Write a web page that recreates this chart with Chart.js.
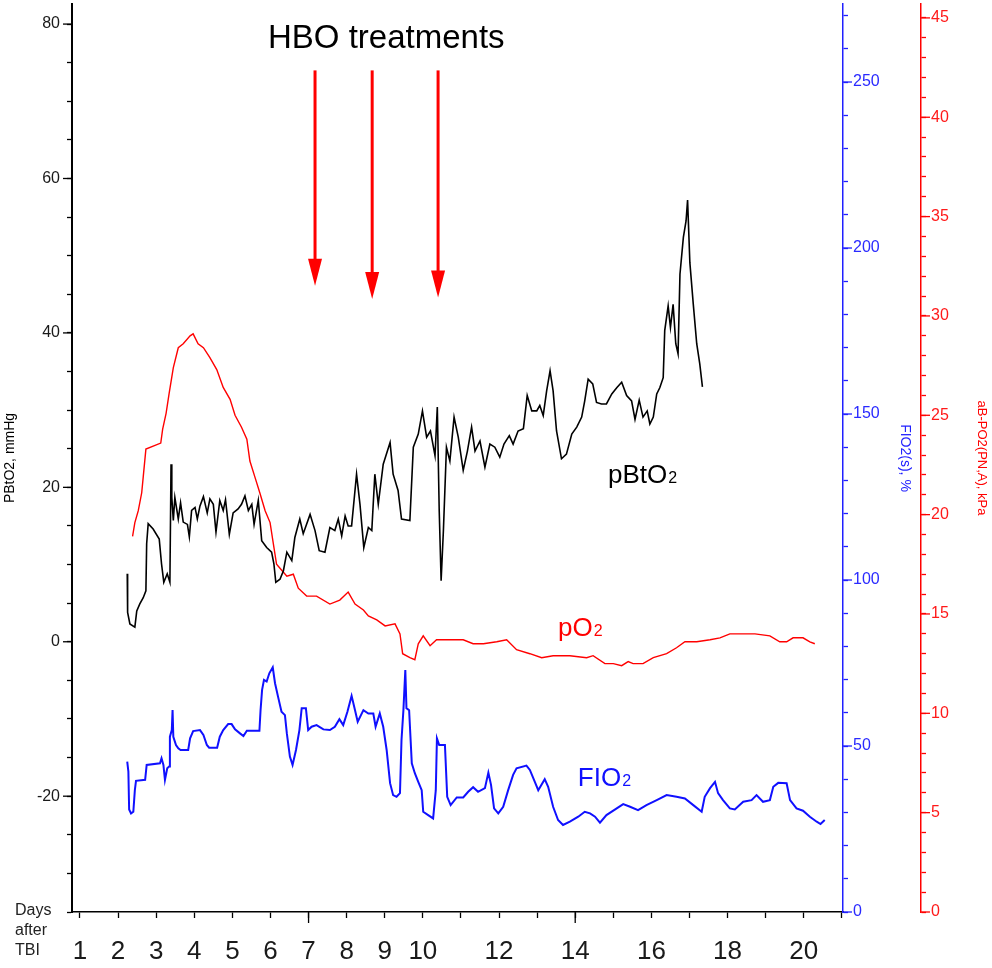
<!DOCTYPE html>
<html><head><meta charset="utf-8">
<script src="https://cdn.jsdelivr.net/npm/chart.js@4.4.1/dist/chart.umd.min.js"></script>
<style>html,body{margin:0;padding:0;background:#fff}#wrap{width:992px;height:968px;position:relative}</style>
</head><body><div id="wrap"><canvas id="c"></canvas></div>
<script>
const FONT = "'Liberation Sans', Arial, Helvetica, sans-serif";

// ---- axis ranges / ticks ----
const X_MIN = 0.79, X_MAX = 21.03;
const dayTickLabels = ['1','2','3','4','5','6','7','8','9','10','','12','','14','','16','','18','','20',''];
const dayMajorTicks = [7, 14];
const leftMin = -35, leftMax = 82.6;
const leftTickLabels = [80, 60, 40, 20, 0, -20];
const fioMax = 273.5;
const fioTickLabels = [0, 50, 100, 150, 200, 250];
const kpaMax = 45.7;
const kpaTickLabels = [0, 5, 10, 15, 20, 25, 30, 35, 40, 45];

// ---- pBtO2 (mmHg, left axis) ----
const pbto2Days = [2.24,2.25,2.31,2.44,2.49,2.57,2.66,2.73,2.75,2.79,
2.92,3.08,3.14,3.20,3.29,3.36,3.39,3.41,3.45,3.49,
3.58,3.64,3.71,3.82,3.87,3.93,4.02,4.08,4.15,4.24,
4.34,4.41,4.50,4.57,4.67,4.76,4.82,4.92,5.02,5.15,
5.24,5.33,5.42,5.51,5.57,5.68,5.77,5.90,6.03,6.09,
6.14,6.25,6.34,6.43,6.56,6.64,6.77,6.86,7.04,7.17,
7.28,7.43,7.56,7.69,7.78,7.87,7.96,8.04,8.13,8.26,
8.35,8.45,8.57,8.66,8.74,8.83,8.96,9.14,9.22,9.35,
9.44,9.66,9.75,9.88,9.99,10.10,10.20,10.32,10.38,10.43,
10.48,10.54,10.62,10.71,10.82,10.93,11.06,11.17,11.28,11.37,
11.50,11.63,11.76,11.89,12.02,12.13,12.27,12.37,12.50,12.64,
12.74,12.86,12.99,13.07,13.16,13.25,13.34,13.42,13.51,13.64,
13.77,13.91,14.04,14.17,14.25,14.34,14.46,14.56,14.69,14.82,
14.96,15.09,15.22,15.35,15.48,15.57,15.68,15.78,15.89,15.96,
16.05,16.14,16.22,16.31,16.35,16.44,16.50,16.57,16.64,16.70,
16.75,16.84,16.91,16.95,17.01,17.10,17.19,17.27,17.34];
const pbto2Values = [8.8,3.8,2.3,1.9,4.0,4.9,5.7,6.6,12.7,15.3,
14.6,13.3,10.1,7.7,8.8,7.7,23.0,18.7,15.7,18.7,
15.9,18.0,15.5,15.2,13.6,17.0,17.4,15.9,17.6,18.8,
16.7,18.5,17.8,14.2,18.3,17.0,18.4,13.9,16.7,17.2,
17.8,18.9,17.0,17.8,15.2,18.3,13.1,12.2,11.6,10.1,
7.7,8.1,9.2,11.6,10.5,13.5,15.9,14.0,16.5,14.4,
11.8,11.6,14.8,14.4,15.9,13.7,16.3,15.0,15.0,21.7,
17.8,12.2,14.8,14.4,21.7,17.8,23.0,25.8,21.7,19.6,
15.9,15.7,25.2,26.9,29.9,26.5,27.3,24.1,30.4,17.0,
7.9,14.4,25.2,23.4,29.1,26.5,22.2,24.7,27.8,24.7,
26.0,22.6,25.6,25.2,23.9,25.6,26.7,25.6,27.3,27.6,
31.9,29.9,29.9,30.6,29.3,32.5,35.1,32.5,27.3,23.7,
24.3,26.9,27.8,29.1,31.2,34.0,33.4,31.0,30.8,30.8,
32.1,32.9,33.6,31.9,31.2,28.8,31.3,29.1,29.9,28.2,
29.1,32.1,32.9,34.2,40.3,43.5,40.7,43.7,38.6,37.3,
47.6,52.4,54.5,57.2,49.1,43.7,38.6,36.0,33.0];

// ---- pO2 (kPa, red axis) ----
const po2Days = [2.38,2.44,2.53,2.62,2.66,2.73,3.12,3.17,3.26,3.34,
3.45,3.58,3.71,3.89,3.97,4.10,4.24,4.41,4.59,4.76,
4.94,5.07,5.24,5.38,5.46,5.59,5.72,5.86,5.99,6.07,
6.16,6.25,6.43,6.60,6.73,6.95,7.21,7.56,7.82,8.04,
8.22,8.44,8.57,8.79,9.01,9.27,9.40,9.47,9.66,9.79,
9.88,10.01,10.19,10.36,10.71,11.06,11.32,11.59,11.94,12.20,
12.46,12.81,13.12,13.42,13.86,14.30,14.47,14.78,15.00,15.22,
15.39,15.52,15.78,16.05,16.40,16.66,16.88,17.19,17.54,17.80,
18.06,18.50,18.72,19.11,19.37,19.55,19.72,19.98,20.16,20.29];
const po2Values = [18.9,19.6,20.2,21.1,21.9,23.3,23.6,24.3,25.1,26.1,
27.4,28.4,28.6,29.0,29.1,28.6,28.4,27.9,27.3,26.4,
25.8,25.0,24.4,23.8,22.7,21.9,21.1,20.2,19.6,18.6,
17.5,17.3,16.9,17.0,16.3,15.9,15.9,15.5,15.7,16.1,
15.5,15.2,14.9,14.7,14.4,14.5,14.0,13.0,12.8,12.7,
13.5,13.9,13.4,13.7,13.7,13.7,13.5,13.5,13.6,13.7,
13.2,13.0,12.8,12.9,12.9,12.8,12.9,12.5,12.5,12.4,
12.6,12.5,12.5,12.8,13.0,13.3,13.6,13.6,13.7,13.8,
14.0,14.0,14.0,13.9,13.6,13.6,13.8,13.8,13.6,13.5];

// ---- FIO2 (%, blue axis) ----
const fio2Days = [2.24,2.27,2.29,2.34,2.40,2.44,2.47,2.71,2.75,3.10,
3.14,3.19,3.23,3.29,3.34,3.36,3.41,3.43,3.45,3.52,
3.58,3.64,3.84,3.89,3.97,4.15,4.24,4.33,4.39,4.60,
4.67,4.76,4.89,4.98,5.07,5.20,5.29,5.38,5.71,5.74,
5.78,5.83,5.90,5.97,6.06,6.12,6.20,6.29,6.38,6.43,
6.51,6.58,6.67,6.76,6.82,6.93,6.99,7.08,7.21,7.39,
7.56,7.69,7.81,7.91,8.02,8.13,8.22,8.29,8.44,8.57,
8.70,8.76,8.87,8.96,9.05,9.14,9.22,9.31,9.40,9.44,
9.49,9.54,9.57,9.64,9.71,9.79,9.88,9.97,10.01,10.14,
10.27,10.34,10.37,10.43,10.58,10.64,10.73,10.89,11.06,11.19,
11.32,11.45,11.63,11.72,11.79,11.87,11.98,12.11,12.24,12.37,
12.46,12.72,12.81,12.94,13.03,13.20,13.29,13.42,13.55,13.68,
13.86,14.08,14.25,14.39,14.52,14.65,14.82,15.09,15.26,15.44,
15.65,15.87,16.14,16.40,16.66,16.88,17.10,17.32,17.40,17.54,
17.67,17.75,17.88,18.06,18.19,18.41,18.63,18.76,18.93,19.11,
19.20,19.33,19.55,19.64,19.81,19.98,20.16,20.34,20.44,20.55];
const fio2Values = [45.3,42.3,30.9,29.7,30.2,36.7,39.5,39.8,44.3,44.8,
46.3,44.3,39.8,43.3,43.8,52.8,54.8,60.8,52.8,50.3,
49.3,48.8,48.8,52.3,54.5,54.8,53.3,50.3,49.5,49.5,
52.8,54.8,56.6,56.6,55.0,53.8,53.0,54.6,54.6,60.8,
66.9,69.9,69.4,71.9,73.7,68.9,64.8,60.3,59.3,53.8,
46.8,44.3,48.8,54.8,61.4,61.4,54.8,55.8,56.3,55.0,
54.8,55.8,58.1,56.3,60.3,65.1,60.8,57.3,60.8,59.8,
59.8,55.8,59.8,55.8,48.8,38.8,35.2,34.7,35.8,51.8,
60.8,72.9,61.4,60.8,44.8,41.8,39.2,36.7,30.2,29.2,
28.2,36.7,52.3,50.3,50.3,34.7,32.2,34.5,34.5,36.2,
37.6,36.2,37.3,42.0,38.3,31.2,29.7,31.7,36.7,41.3,
43.3,44.1,42.8,39.2,36.7,40.0,37.7,31.7,27.7,26.2,
27.2,28.7,30.2,29.7,28.7,26.9,29.2,31.2,32.5,31.7,
30.7,32.2,33.7,35.2,34.7,34.2,32.2,30.2,34.7,37.3,
39.2,35.8,33.7,31.2,30.9,33.2,33.7,35.2,33.2,33.7,
37.7,38.9,38.8,33.7,31.2,30.5,28.7,27.2,26.5,27.7];

// ---- annotations (in data units of x / left axis) ----
const hboTitle = 'HBO treatments';
const hboTitleDay = 9.04, hboTitleValue = 76.9;
const hboArrowDays = [7.17, 8.67, 10.40];
const hboArrowTop = 74.0;
const hboArrowTips = [46.1, 44.4, 44.6];
const seriesLabelTexts = ['pBtO', 'pO', 'FIO'];
const seriesLabelSub = '2';
const seriesLabelDays = [14.86, 13.55, 14.07];
const seriesLabelValues = [20.6, 0.8, -18.7];
const seriesLabelColors = ['#000000', '#ff0000', '#1010ff'];
const xAxisCaption = ['Days', 'after', 'TBI'];

function pts(xs, ys) {
  const n = Math.min(xs.length, ys.length), a = [];
  for (let i = 0; i < n; i++) a.push({x: xs[i], y: ys[i]});
  return a;
}

function drawMajor(ctx, scale, values, len, color, side) {
  ctx.save();
  ctx.strokeStyle = color; ctx.lineWidth = 1.3;
  values.forEach(v => {
    const p = scale.getPixelForValue(v);
    ctx.beginPath();
    if (side === 'left') { ctx.moveTo(scale.right, p); ctx.lineTo(scale.right - len, p); }
    else if (side === 'right') { ctx.moveTo(scale.left, p); ctx.lineTo(scale.left + len, p); }
    else { ctx.moveTo(p, scale.top); ctx.lineTo(p, scale.top + len); }
    ctx.stroke();
  });
  ctx.restore();
}

const overlay = {
  id: 'overlay',
  afterDraw(chart) {
    const ctx = chart.ctx;
    const xs = chart.scales.x, yl = chart.scales.y;
    drawMajor(ctx, yl, leftTickLabels, 9, '#000', 'left');
    drawMajor(ctx, xs, dayMajorTicks, 11, '#000', 'bottom');
    drawMajor(ctx, chart.scales.yFio, fioTickLabels, 9, '#2020ff', 'right');
    drawMajor(ctx, chart.scales.yKpa, kpaTickLabels, 9, '#ff0000', 'right');

    // arrows
    ctx.save();
    ctx.strokeStyle = '#ff0000'; ctx.fillStyle = '#ff0000';
    hboArrowDays.forEach((d, i) => {
      const x = xs.getPixelForValue(d);
      const y0 = yl.getPixelForValue(hboArrowTop);
      const y1 = yl.getPixelForValue(hboArrowTips[i]);
      const headLen = 27, headW = 7;
      ctx.lineWidth = 3;
      ctx.beginPath(); ctx.moveTo(x, y0); ctx.lineTo(x, y1 - headLen + 2); ctx.stroke();
      ctx.beginPath();
      ctx.moveTo(x - headW, y1 - headLen); ctx.lineTo(x + headW, y1 - headLen); ctx.lineTo(x, y1);
      ctx.closePath(); ctx.fill();
    });
    ctx.restore();

    // title text
    ctx.save();
    ctx.fillStyle = '#000';
    ctx.font = '33px ' + FONT;
    ctx.textAlign = 'center'; ctx.textBaseline = 'alphabetic';
    ctx.fillText(hboTitle, xs.getPixelForValue(hboTitleDay), yl.getPixelForValue(hboTitleValue));

    // series labels with subscript
    ctx.textAlign = 'left';
    seriesLabelTexts.forEach((t, i) => {
      const x = xs.getPixelForValue(seriesLabelDays[i]);
      const y = yl.getPixelForValue(seriesLabelValues[i]);
      ctx.fillStyle = seriesLabelColors[i];
      ctx.font = '26px ' + FONT;
      ctx.fillText(t, x, y);
      const w = ctx.measureText(t).width;
      ctx.font = '16px ' + FONT;
      ctx.fillText(seriesLabelSub, x + w + 1, y);
    });

    // x axis caption
    ctx.fillStyle = '#222';
    ctx.font = '16px ' + FONT;
    const cx = chart.chartArea.left - 57, cy = chart.chartArea.bottom;
    xAxisCaption.forEach((t, i) => ctx.fillText(t, cx, cy + 3 + i * 20));
    ctx.restore();
  }
};

const lineDefaults = {pointRadius: 0, pointHoverRadius: 0, tension: 0, fill: false};

new Chart(document.getElementById('c'), {
  type: 'line',
  data: {
    datasets: [
      Object.assign({label: 'pBtO2', data: pts(pbto2Days, pbto2Values), yAxisID: 'y',
        borderColor: '#000000', borderWidth: 1.6}, lineDefaults),
      Object.assign({label: 'pO2', data: pts(po2Days, po2Values), yAxisID: 'yKpa',
        borderColor: '#ff0000', borderWidth: 1.4}, lineDefaults),
      Object.assign({label: 'FIO2', data: pts(fio2Days, fio2Values), yAxisID: 'yFio',
        borderColor: '#1010ff', borderWidth: 2}, lineDefaults)
    ]
  },
  options: {
    responsive: true,
    maintainAspectRatio: false,
    animation: false,
    events: [],
    layout: {padding: {top: 4, left: 0, right: 0, bottom: 0}},
    plugins: {legend: {display: false}, tooltip: {enabled: false}, title: {display: false}},
    scales: {
      x: {
        type: 'linear', position: 'bottom', min: X_MIN, max: X_MAX,
        border: {display: true, color: '#000', width: 1.5},
        grid: {drawOnChartArea: false, drawTicks: true, tickLength: 6, tickColor: '#000', tickWidth: 1.3},
        ticks: {
          stepSize: 1, includeBounds: false, autoSkip: false, maxRotation: 0, minRotation: 0,
          padding: 18, color: '#1a1a1a', font: {family: FONT, size: 26},
          callback: v => dayTickLabels[Math.round(v) - 1] ?? ''
        },
        afterFit: s => { s.height = 56; s.paddingLeft = 0; s.paddingRight = 0; }
      },
      y: {
        type: 'linear', position: 'left', min: leftMin, max: leftMax,
        border: {display: true, color: '#000', width: 2},
        grid: {drawOnChartArea: false, drawTicks: true, tickLength: 5, tickColor: '#000', tickWidth: 1.3},
        ticks: {
          stepSize: 5, includeBounds: false, autoSkip: false, padding: 7,
          color: '#1a1a1a', font: {family: FONT, size: 16},
          callback: v => leftTickLabels.includes(v) ? String(v) : ''
        },
        title: {display: true, text: 'PBtO2, mmHg', color: '#000', font: {family: FONT, size: 14}, padding: {top: 2, bottom: 0}},
        afterFit: s => { s.width = 72; s.paddingTop = 0; s.paddingBottom = 0; }
      },
      yFio: {
        type: 'linear', position: 'right', weight: 0, min: 0, max: fioMax,
        border: {display: true, color: '#2020ff', width: 1.5},
        grid: {drawOnChartArea: false, drawTicks: true, tickLength: 5, tickColor: '#2020ff', tickWidth: 1.3},
        ticks: {
          stepSize: 10, includeBounds: false, autoSkip: false, padding: 5,
          color: '#2a2aff', font: {family: FONT, size: 16},
          callback: v => fioTickLabels.includes(v) ? String(v) : ''
        },
        title: {display: true, text: 'FIO2(s), %', color: '#2020ff', font: {family: FONT, size: 14}, padding: {top: 8, bottom: 0}},
        afterFit: s => { s.width = 78; s.paddingTop = 0; s.paddingBottom = 0; }
      },
      yKpa: {
        type: 'linear', position: 'right', weight: 1, min: 0, max: kpaMax,
        border: {display: true, color: '#ff0000', width: 1.5},
        grid: {drawOnChartArea: false, drawTicks: true, tickLength: 5, tickColor: '#ff0000', tickWidth: 1.3},
        ticks: {
          stepSize: 1, includeBounds: false, autoSkip: false, padding: 5,
          color: '#ff1a1a', font: {family: FONT, size: 16},
          callback: v => kpaTickLabels.includes(v) ? String(v) : ''
        },
        title: {display: true, text: 'aB-PO2(PN,A), kPa', color: '#ff0000', font: {family: FONT, size: 13}, padding: {top: 3, bottom: 0}},
        afterFit: s => { s.width = 71; s.paddingTop = 0; s.paddingBottom = 0; }
      }
    }
  },
  plugins: [overlay]
});
</script>
</body></html>
